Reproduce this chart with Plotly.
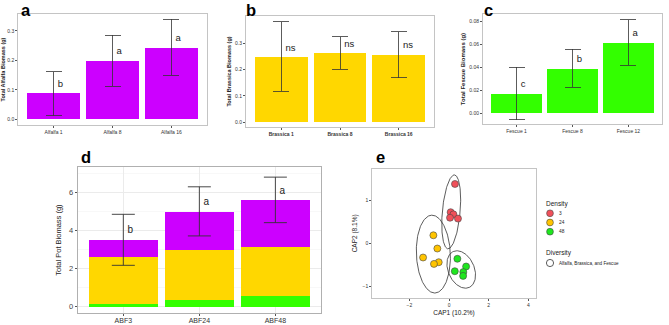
import numpy as np
import plotly.graph_objects as go

W, H = 669, 325

# ---------------- data ----------------
alfalfa_cats = ["Alfalfa 1", "Alfalfa 8", "Alfalfa 16"]
alfalfa_mean = [0.088, 0.198, 0.243]
alfalfa_lo = [0.012, 0.112, 0.149]
alfalfa_hi = [0.161, 0.285, 0.339]
alfalfa_letters = ["b", "a", "a"]

brassica_cats = ["Brassica 1", "Brassica 8", "Brassica 16"]
brassica_mean = [0.247, 0.262, 0.256]
brassica_lo = [0.118, 0.201, 0.169]
brassica_hi = [0.382, 0.325, 0.344]
brassica_letters = ["ns", "ns", "ns"]

fescue_cats = ["Fescue 1", "Fescue 8", "Fescue 12"]
fescue_mean = [0.0169, 0.0390, 0.0614]
fescue_lo = [-0.0056, 0.0227, 0.0419]
fescue_hi = [0.0404, 0.0559, 0.0818]
fescue_letters = ["c", "b", "a"]

pot_cats = ["ABF3", "ABF24", "ABF48"]
pot_fescue = [0.14, 0.37, 0.58]
pot_brassica = [2.50, 2.62, 2.59]
pot_alfalfa = [0.88, 2.01, 2.44]
pot_lo = [2.18, 3.73, 4.43]
pot_hi = [4.87, 6.32, 6.83]
pot_letters = ["b", "a", "a"]

density_levels = ["3", "24", "48"]
cap1_d3 = [0.30, 0.08, 0.22, 0.05, 0.45]
cap2_d3 = [1.39, 0.73, 0.68, 0.60, 0.58]
cap1_d24 = [-0.79, -0.59, -1.31, -0.52, -0.76]
cap2_d24 = [0.19, -0.12, -0.33, -0.44, -0.48]
cap1_d48 = [0.42, 0.86, 0.29, 0.72, 0.71]
cap2_d48 = [-0.36, -0.54, -0.65, -0.67, -0.76]

# ellipse parameters per density (centre, major half-axis vector, minor half-axis vector)
ell_cx = [0.11, -0.79, 0.615]
ell_cy = [0.737, -0.25, -0.61]
ell_ux = [0.166, -0.086, -0.403]
ell_uy = [0.864, 0.91, 0.42]
ell_vx = [0.447, 0.856, 0.60]
ell_vy = [-0.018, 0.017, 0.124]

diversity_label = "Alfalfa, Brassica, and Fescue"

# ---------------- styles ----------------
PURPLE = "#CC00FF"
GOLD = "#FFD700"
LIME = "#33FF00"
PT_COLORS = ["#F0505A", "#FFC400", "#1EE61E"]
FONT = "Liberation Sans, Arial, sans-serif"
TXT = "#222222"


def px_x(a, b):
    return [a / W, b / W]


def px_y(top, bottom):
    return [1 - bottom / H, 1 - top / H]


fig = go.Figure()


def bar_panel(ax, cats, mean, lo, hi, letters, color, cap=8):
    xa = "x" if ax == 1 else f"x{ax}"
    ya = "y" if ax == 1 else f"y{ax}"
    fig.add_trace(go.Bar(
        x=cats, y=mean, width=0.9, marker=dict(color=color, line=dict(width=0)),
        error_y=dict(type="data", symmetric=False,
                     array=[h - m for h, m in zip(hi, mean)],
                     arrayminus=[m - l for m, l in zip(mean, lo)],
                     color="#333333", thickness=0.8, width=cap),
        xaxis=xa, yaxis=ya, showlegend=False))
    fig.add_trace(go.Scatter(
        x=cats, y=mean, mode="markers+text", text=letters, textposition="top right",
        marker=dict(size=5, opacity=0),
        textfont=dict(size=9.5, color=TXT, family=FONT), cliponaxis=False,
        xaxis=xa, yaxis=ya, showlegend=False, hoverinfo="skip"))


bar_panel(1, alfalfa_cats, alfalfa_mean, alfalfa_lo, alfalfa_hi, alfalfa_letters, PURPLE)
bar_panel(2, brassica_cats, brassica_mean, brassica_lo, brassica_hi, brassica_letters, GOLD)
bar_panel(3, fescue_cats, fescue_mean, fescue_lo, fescue_hi, fescue_letters, LIME)

# panel d stacked
for vals, col in [(pot_fescue, LIME), (pot_brassica, GOLD), (pot_alfalfa, PURPLE)]:
    fig.add_trace(go.Bar(x=pot_cats, y=vals, width=0.9, marker=dict(color=col, line=dict(width=0)),
                         xaxis="x4", yaxis="y4", showlegend=False))
pot_total = [a + b + c for a, b, c in zip(pot_fescue, pot_brassica, pot_alfalfa)]
fig.add_trace(go.Scatter(
    x=pot_cats, y=pot_total, mode="markers", marker=dict(size=0.1, opacity=0),
    error_y=dict(type="data", symmetric=False,
                 array=[h - t for h, t in zip(pot_hi, pot_total)],
                 arrayminus=[t - l for t, l in zip(pot_total, pot_lo)],
                 color="#333333", thickness=0.9, width=11.5),
    xaxis="x4", yaxis="y4", showlegend=False, hoverinfo="skip"))
fig.add_trace(go.Scatter(
    x=pot_cats, y=pot_total, mode="markers+text", text=pot_letters, textposition="top right",
    marker=dict(size=5, opacity=0),
    textfont=dict(size=10, color=TXT, family=FONT), cliponaxis=False,
    xaxis="x4", yaxis="y4", showlegend=False, hoverinfo="skip"))

# panel e
groups = [(cap1_d3, cap2_d3), (cap1_d24, cap2_d24), (cap1_d48, cap2_d48)]
t = np.linspace(0, 2 * np.pi, 181)
for i in range(3):
    ex = ell_cx[i] + ell_ux[i] * np.cos(t) + ell_vx[i] * np.sin(t)
    ey = ell_cy[i] + ell_uy[i] * np.cos(t) + ell_vy[i] * np.sin(t)
    fig.add_trace(go.Scatter(x=ex, y=ey, mode="lines", line=dict(color="#333333", width=0.8),
                             xaxis="x5", yaxis="y5", showlegend=False, hoverinfo="skip"))
for i, (gx, gy) in enumerate(groups):
    fig.add_trace(go.Scatter(x=gx, y=gy, mode="markers",
                             marker=dict(size=7, color=PT_COLORS[i], line=dict(color="#444444", width=0.6)),
                             xaxis="x5", yaxis="y5", showlegend=False))

# ---------------- axes ----------------
small_tick = dict(size=5, color="#333333", family=FONT)


def box_axes(ax, xd, yd, yrange, ytickvals, yticktext, ytitle, ytitle_size=5.5, standoff=3, xbold=False):
    xk = "xaxis" if ax == 1 else f"xaxis{ax}"
    yk = "yaxis" if ax == 1 else f"yaxis{ax}"
    ya = "y" if ax == 1 else f"y{ax}"
    xa = "x" if ax == 1 else f"x{ax}"
    xfont = dict(size=5, color="#333333", family=FONT)
    if xbold:
        xfont["weight"] = "bold"
    fig.update_layout({
        xk: dict(domain=xd, anchor=ya, range=[-0.6, 2.6], showline=True, mirror=True, automargin=False,
                 linecolor="#C4C4C4", linewidth=1, ticks="outside", ticklen=2, tickcolor="#555555",
                 tickfont=xfont, showgrid=False, zeroline=False),
        yk: dict(domain=yd, anchor=xa, range=yrange, showline=True, mirror=True, automargin=False,
                 linecolor="#C4C4C4", linewidth=1, ticks="outside", ticklen=2, tickcolor="#555555",
                 tickvals=ytickvals, ticktext=yticktext,
                 tickfont=small_tick, showgrid=False, zeroline=False,
                 title=dict(text=f"<b>{ytitle}</b>", font=dict(size=ytitle_size, color=TXT, family=FONT),
                            standoff=standoff)),
    })


box_axes(1, px_x(18.3, 206.7), px_y(14, 125), [-0.019, 0.357],
         [0, 0.1, 0.2, 0.3], ["0.0", "0.1", "0.2", "0.3"], "Total Alfalfa Biomass (g)")
box_axes(2, px_x(246, 434), px_y(16, 127), [-0.018, 0.404],
         [0, 0.1, 0.2, 0.3], ["0.0", "0.1", "0.2", "0.3"], "Total Brassica Biomass (g)", xbold=True)
box_axes(3, px_x(483, 662), px_y(14, 124), [-0.0093, 0.0867],
         [0, 0.02, 0.04, 0.06, 0.08], ["0.00", "0.02", "0.04", "0.06", "0.08"],
         "Total Fescue Biomass (g)", ytitle_size=6)

fig.update_layout(
    xaxis4=dict(domain=px_x(77.7, 321), anchor="y4", range=[-0.6, 2.6], showline=True, mirror=True,
                automargin=False, ticklabelstandoff=-2,
                linecolor="#B0B0B0", linewidth=1, ticks="outside", ticklen=2, tickcolor="#555555",
                tickfont=dict(size=7, color="#333333", family=FONT), showgrid=True, gridcolor="#EBEBEB",
                gridwidth=1, zeroline=False),
    yaxis4=dict(domain=px_y(166.7, 313.3), anchor="x4", range=[-0.35, 7.38], showline=True, mirror=True,
                automargin=False,
                linecolor="#B0B0B0", linewidth=1, ticks="outside", ticklen=2, tickcolor="#555555",
                tickvals=[0, 2, 4, 6], tickfont=dict(size=7.5, color="#444444", family=FONT),
                showgrid=True, gridcolor="#EBEBEB", gridwidth=1, zeroline=False,
                minor=dict(showgrid=True, gridcolor="#F4F4F4", gridwidth=0.6, dtick=1, tick0=1),
                title=dict(text="Total Pot Biomass (g)", font=dict(size=7.5, color=TXT, family=FONT),
                           standoff=6)),
    xaxis5=dict(domain=px_x(372.3, 535.7), anchor="y5", range=[-3.87, 4.37], showline=True, mirror=True,
                automargin=False,
                linecolor="#C4C4C4", linewidth=1, ticks="outside", ticklen=2, tickcolor="#555555",
                tickvals=[-2, 0, 2, 4], tickfont=small_tick, showgrid=False, zeroline=False,
                title=dict(text="CAP1 (10.2%)", font=dict(size=6.5, color=TXT, family=FONT), standoff=3)),
    yaxis5=dict(domain=px_y(169, 297.7), anchor="x5", range=[-1.27, 1.74], showline=True, mirror=True,
                automargin=False,
                linecolor="#C4C4C4", linewidth=1, ticks="outside", ticklen=2, tickcolor="#555555",
                tickvals=[-1, 0, 1], tickfont=small_tick, showgrid=False, zeroline=False,
                title=dict(text="CAP2 (8.1%)", font=dict(size=6.5, color=TXT, family=FONT), standoff=4)),
)

# ---------------- panel letters ----------------
annotations = []
for lab, xp in [("a", 26), ("b", 251), ("c", 488)]:
    annotations.append(dict(text=f"<b>{lab}</b>", x=xp / W, y=1, xref="paper", yref="paper",
                            showarrow=False, font=dict(size=16.5, color="#000000", family=FONT),
                            xanchor="center", yanchor="top", borderpad=0))
for lab, xp in [("d", 85.5), ("e", 380)]:
    annotations.append(dict(text=f"<b>{lab}</b>", x=xp / W, y=1 - 167.5 / H, xref="paper", yref="paper",
                            showarrow=False, font=dict(size=16.5, color="#000000", family=FONT),
                            xanchor="center", yanchor="bottom", borderpad=0))

# ---------------- legend (drawn) ----------------
shapes = []
annotations.append(dict(text="Density", x=544 / W, y=1 - 203.5 / H, xref="paper", yref="paper",
                        showarrow=False, xanchor="left", yanchor="middle",
                        font=dict(size=6.5, color=TXT, family=FONT)))
for i, lev in enumerate(density_levels):
    yc = 1 - (213.3 + i * 9.2) / H
    shapes.append(dict(type="circle", xref="paper", yref="paper", xsizemode="pixel", ysizemode="pixel",
                       xanchor=550 / W, yanchor=yc, x0=-3.4, x1=3.4, y0=-3.4, y1=3.4,
                       fillcolor=PT_COLORS[i], line=dict(color="#444444", width=0.6)))
    annotations.append(dict(text=lev, x=557 / W, y=yc, xref="paper", yref="paper", showarrow=False,
                            xanchor="left", yanchor="middle", font=dict(size=4.8, color=TXT, family=FONT)))
annotations.append(dict(text="Diversity", x=544 / W, y=1 - 252.7 / H, xref="paper", yref="paper",
                        showarrow=False, xanchor="left", yanchor="middle",
                        font=dict(size=6.5, color=TXT, family=FONT)))
yc = 1 - 263 / H
shapes.append(dict(type="circle", xref="paper", yref="paper", xsizemode="pixel", ysizemode="pixel",
                   xanchor=550 / W, yanchor=yc, x0=-3.6, x1=3.6, y0=-3.6, y1=3.6,
                   fillcolor="white", line=dict(color="#333333", width=0.8)))
annotations.append(dict(text=diversity_label, x=557 / W, y=yc, xref="paper", yref="paper", showarrow=False,
                        xanchor="left", yanchor="middle", font=dict(size=4.6, color=TXT, family=FONT)))

fig.update_layout(
    width=W, height=H, autosize=False, margin=dict(l=0, r=0, t=0, b=0),
    paper_bgcolor="white", plot_bgcolor="white", barmode="stack", bargap=0.1,
    font=dict(family=FONT, color=TXT), annotations=annotations, shapes=shapes,
    showlegend=False,
)

fig.write_html(
    "out.html",
    config={"displayModeBar": False, "staticPlot": True},
    post_script="document.body.style.margin='0';document.body.style.padding='0';"
                "document.body.style.overflow='hidden';",
)
